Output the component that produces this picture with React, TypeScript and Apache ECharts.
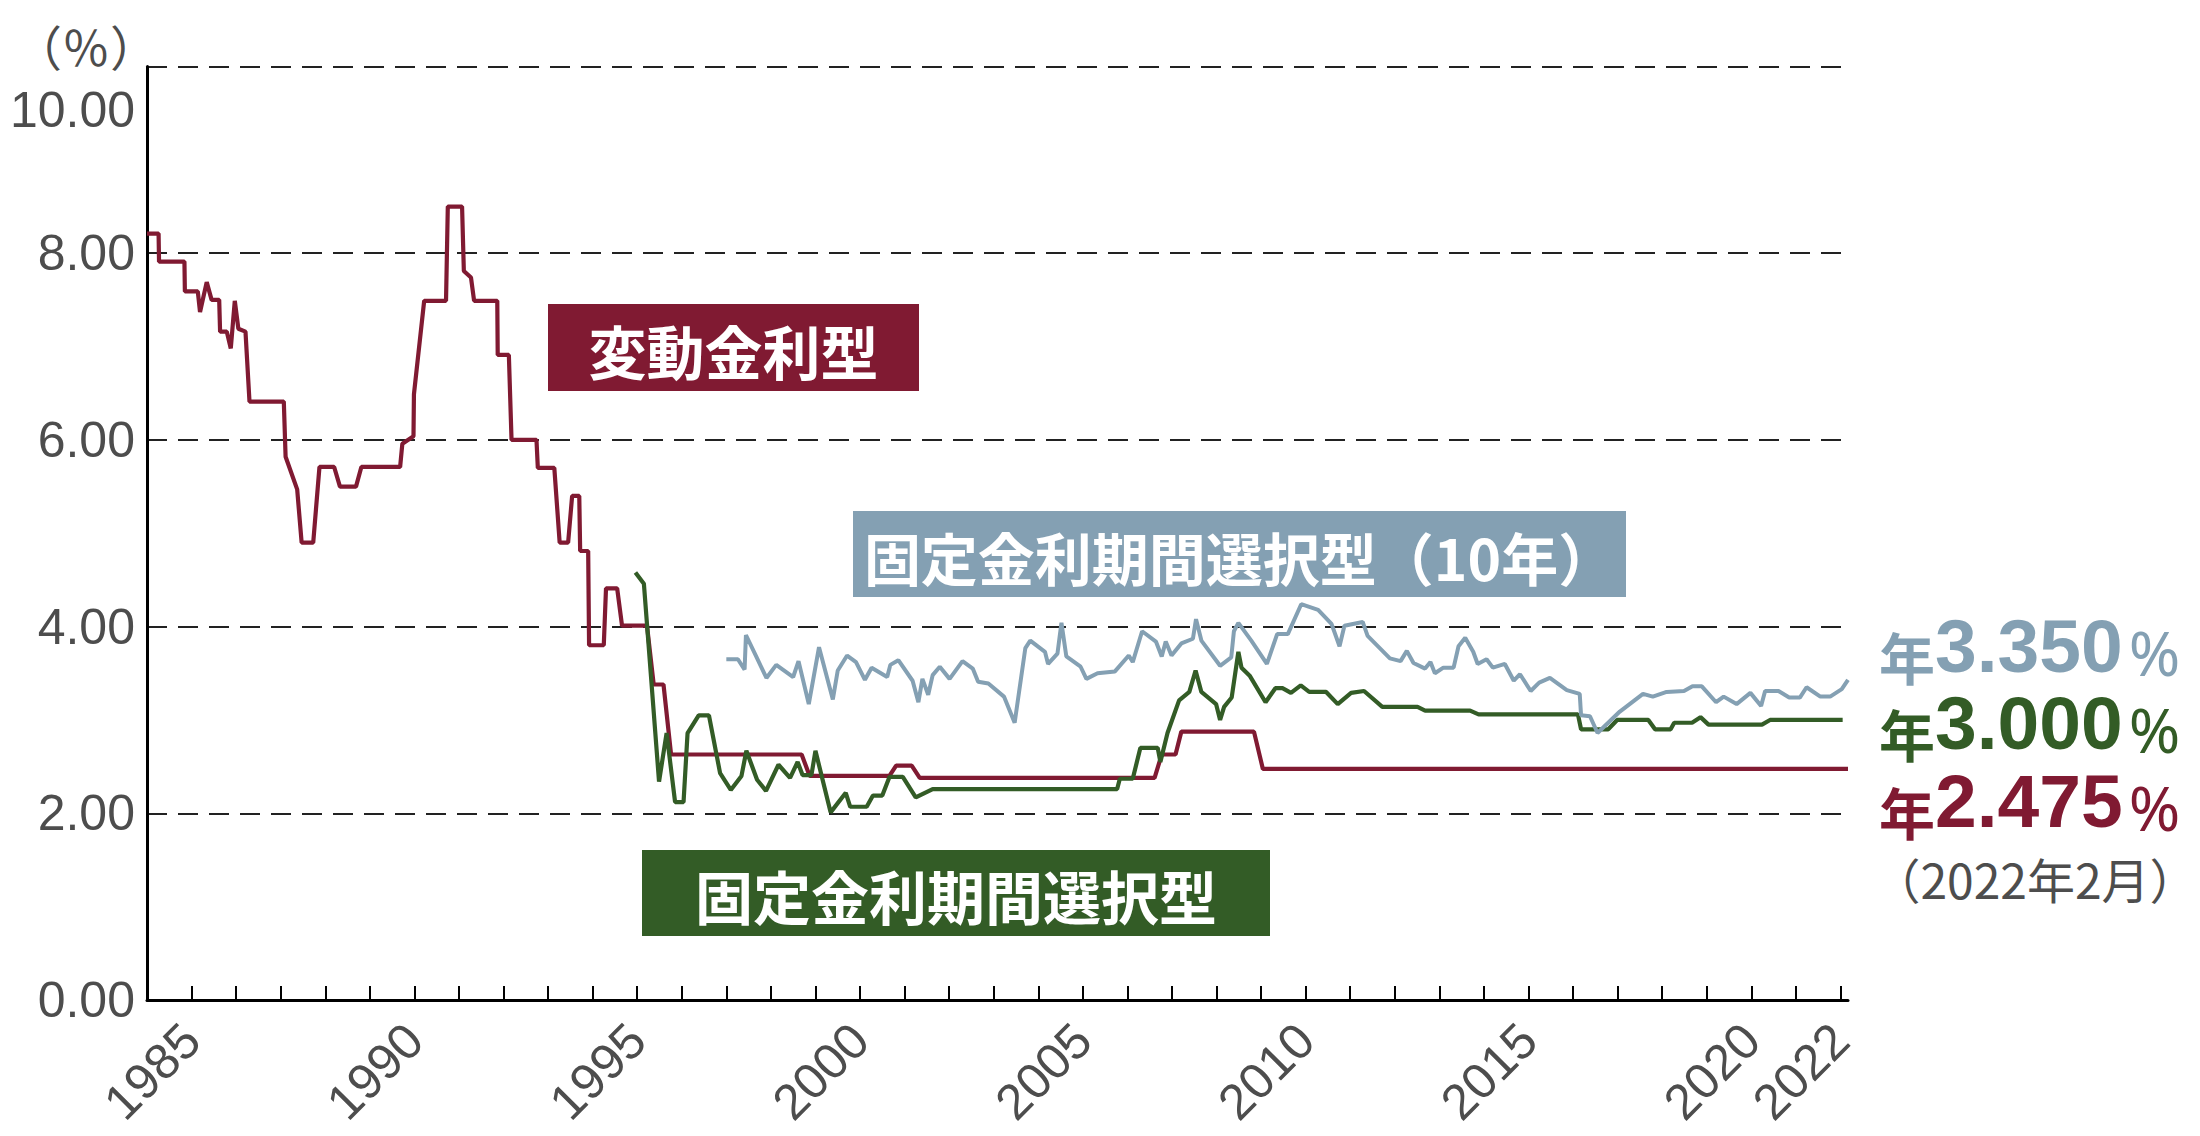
import React, { useEffect, useRef } from 'react';
import * as echarts from 'echarts';

// 変動金利型 (variable rate)
const variableYears = [1984.0, 1984.26, 1984.27, 1984.84, 1984.85, 1985.14, 1985.19, 1985.34, 1985.45, 1985.62, 1985.64, 1985.79, 1985.88, 1985.97, 1986.05, 1986.21, 1986.3, 1987.07, 1987.11, 1987.37, 1987.47, 1987.73, 1987.87, 1988.2, 1988.33, 1988.69, 1988.81, 1989.68, 1989.73, 1989.98, 1989.99, 1990.22, 1990.71, 1990.75, 1991.07, 1991.11, 1991.27, 1991.34, 1991.86, 1991.87, 1992.12, 1992.18, 1992.74, 1992.77, 1993.14, 1993.26, 1993.45, 1993.54, 1993.7, 1993.72, 1993.9, 1993.92, 1994.25, 1994.3, 1994.55, 1994.66, 1995.22, 1995.37, 1995.59, 1995.76, 1998.69, 1998.87, 2000.66, 2000.81, 2001.16, 2001.34, 2006.61, 2006.77, 2007.08, 2007.21, 2008.84, 2009.04, 2022.17];
const variableRates = [8.21, 8.21, 7.91, 7.91, 7.59, 7.59, 7.37, 7.69, 7.5, 7.5, 7.16, 7.16, 6.98, 7.49, 7.19, 7.16, 6.41, 6.41, 5.82, 5.47, 4.9, 4.9, 5.71, 5.71, 5.5, 5.5, 5.71, 5.71, 5.96, 6.04, 6.49, 7.49, 7.49, 8.5, 8.5, 7.81, 7.74, 7.49, 7.49, 6.91, 6.91, 6.0, 6.0, 5.7, 5.7, 4.9, 4.9, 5.4, 5.4, 4.81, 4.81, 3.8, 3.8, 4.41, 4.41, 4.01, 4.01, 3.38, 3.38, 2.63, 2.63, 2.4, 2.4, 2.51, 2.51, 2.38, 2.38, 2.63, 2.63, 2.875, 2.875, 2.475, 2.475];

// 固定金利期間選択型 (3年)
const fixedYears = [1994.96, 1995.15, 1995.49, 1995.66, 1995.85, 1996.04, 1996.13, 1996.38, 1996.61, 1996.86, 1997.1, 1997.34, 1997.45, 1997.69, 1997.89, 1998.17, 1998.43, 1998.6, 1998.71, 1998.91, 1999.0, 1999.34, 1999.68, 1999.78, 2000.15, 2000.29, 2000.5, 2000.66, 2000.96, 2001.25, 2001.63, 2005.77, 2005.83, 2006.12, 2006.29, 2006.68, 2006.74, 2006.9, 2007.16, 2007.39, 2007.53, 2007.66, 2007.99, 2008.08, 2008.17, 2008.34, 2008.49, 2008.56, 2008.75, 2009.1, 2009.32, 2009.48, 2009.67, 2009.89, 2010.08, 2010.46, 2010.72, 2011.02, 2011.31, 2011.72, 2012.51, 2012.68, 2013.69, 2013.88, 2016.11, 2016.18, 2016.79, 2016.99, 2017.69, 2017.84, 2018.19, 2018.27, 2018.67, 2018.86, 2019.04, 2020.24, 2020.42, 2022.05];
const fixedRates = [4.58, 4.46, 2.34, 2.86, 2.12, 2.12, 2.86, 3.05, 3.05, 2.43, 2.25, 2.4, 2.67, 2.36, 2.24, 2.52, 2.38, 2.55, 2.41, 2.41, 2.67, 2.01, 2.22, 2.07, 2.07, 2.19, 2.19, 2.39, 2.39, 2.17, 2.26, 2.26, 2.37, 2.37, 2.7, 2.7, 2.55, 2.86, 3.21, 3.3, 3.53, 3.3, 3.17, 3.0, 3.14, 3.24, 3.73, 3.56, 3.47, 3.19, 3.34, 3.34, 3.29, 3.37, 3.3, 3.3, 3.17, 3.29, 3.31, 3.14, 3.14, 3.1, 3.1, 3.06, 3.06, 2.9, 2.9, 3.0, 3.0, 2.9, 2.9, 2.97, 2.97, 3.03, 2.95, 2.95, 3.0, 3.0];

// 固定金利期間選択型（10年）
const fixed10Years = [1997.0, 1997.26, 1997.41, 1997.44, 1997.67, 1997.9, 1998.12, 1998.5, 1998.62, 1998.85, 1999.08, 1999.39, 1999.5, 1999.71, 1999.91, 2000.11, 2000.26, 2000.61, 2000.68, 2000.86, 2001.18, 2001.31, 2001.4, 2001.53, 2001.63, 2001.79, 2002.01, 2002.3, 2002.53, 2002.65, 2002.88, 2003.23, 2003.47, 2003.71, 2003.82, 2004.15, 2004.22, 2004.43, 2004.52, 2004.63, 2004.95, 2005.08, 2005.33, 2005.72, 2006.03, 2006.12, 2006.33, 2006.64, 2006.77, 2006.86, 2006.99, 2007.21, 2007.47, 2007.54, 2007.66, 2008.08, 2008.33, 2008.39, 2008.49, 2008.78, 2009.13, 2009.36, 2009.6, 2009.9, 2010.28, 2010.58, 2010.76, 2010.87, 2011.28, 2011.39, 2011.89, 2012.13, 2012.27, 2012.42, 2012.68, 2012.8, 2012.9, 2013.09, 2013.32, 2013.43, 2013.58, 2013.76, 2013.86, 2014.06, 2014.2, 2014.47, 2014.67, 2014.81, 2015.05, 2015.24, 2015.48, 2015.86, 2016.15, 2016.18, 2016.38, 2016.55, 2017.05, 2017.57, 2017.79, 2018.1, 2018.49, 2018.68, 2018.89, 2019.21, 2019.38, 2019.67, 2019.98, 2020.22, 2020.31, 2020.61, 2020.85, 2021.09, 2021.24, 2021.55, 2021.77, 2022.03, 2022.17];
const fixed10Rates = [3.65, 3.65, 3.54, 3.91, 3.68, 3.45, 3.59, 3.46, 3.63, 3.17, 3.78, 3.22, 3.53, 3.69, 3.62, 3.43, 3.56, 3.46, 3.59, 3.64, 3.42, 3.19, 3.44, 3.27, 3.48, 3.57, 3.44, 3.63, 3.55, 3.41, 3.39, 3.25, 2.97, 3.77, 3.85, 3.73, 3.6, 3.71, 4.04, 3.68, 3.57, 3.44, 3.5, 3.52, 3.69, 3.62, 3.95, 3.84, 3.68, 3.84, 3.69, 3.82, 3.87, 4.08, 3.85, 3.58, 3.67, 3.95, 4.04, 3.85, 3.6, 3.92, 3.92, 4.24, 4.18, 4.03, 3.79, 4.01, 4.05, 3.9, 3.66, 3.63, 3.74, 3.61, 3.55, 3.62, 3.5, 3.56, 3.56, 3.79, 3.88, 3.73, 3.6, 3.65, 3.56, 3.6, 3.42, 3.49, 3.31, 3.4, 3.45, 3.32, 3.28, 3.05, 3.04, 2.86, 3.09, 3.28, 3.25, 3.3, 3.31, 3.36, 3.36, 3.19, 3.25, 3.17, 3.29, 3.15, 3.31, 3.31, 3.24, 3.24, 3.35, 3.25, 3.25, 3.33, 3.43];

const xLabelYears = [1985, 1990, 1995, 2000, 2005, 2010, 2015, 2020, 2022];
const yTicks = [0, 2, 4, 6, 8, 10];
const seriesNames = ['変動金利型', '固定金利期間選択型', '固定金利期間選択型（10年）'];
const latestRates = ['3.350', '3.000', '2.475'];
const latestDate = '（2022年2月）';
const unitLabel = '（％）';

const MAROON = '#801a32';
const GREEN = '#335c26';
const BLUE = '#84a0b3';
const GRAY = '#4d4d4d';
const CJK = '"Noto Sans CJK JP", sans-serif';
const LATIN = '"Liberation Sans", Arial, sans-serif';

const zip = (xs: number[], ys: number[]) => xs.map((x, i) => [x, ys[i]]);

export default function App() {
  const ref = useRef<HTMLDivElement>(null);
  useEffect(() => {
    if (!ref.current) return;
    const chart = echarts.init(ref.current, null, { renderer: 'svg' });
    const tickYears: number[] = [];
    for (let y = 1985; y <= 2022; y++) tickYears.push(y);
    const topTick = yTicks[yTicks.length - 1];

    const valueLabel = (rate: string, color: string, y: number) => ({
      type: 'text',
      x: 1879,
      y,
      style: {
        text: `{a|年}{b|${rate}}{c|%}`,
        align: 'left',
        verticalAlign: 'middle',
        rich: {
          a: { fontFamily: CJK, fontWeight: 'bold', fontSize: 56, fill: color, color, verticalAlign: 'bottom', lineHeight: 76 },
          b: { fontFamily: LATIN, fontWeight: 'bold', fontSize: 75, fill: color, color, verticalAlign: 'bottom', lineHeight: 76 },
          c: { fontFamily: '"Noto Sans", sans-serif', fontWeight: 'normal', fontSize: 62, fill: color, color, verticalAlign: 'bottom', lineHeight: 72, padding: [0, 0, 0, 6] },
        },
      },
    });

    const box = (x: number, y: number, w: number, h: number, color: string, text: string, fs: number) => ({
      type: 'group',
      children: [
        { type: 'rect', shape: { x, y, width: w, height: h }, style: { fill: color } },
        {
          type: 'text',
          x: x + w / 2,
          y: y + h / 2 + 2,
          style: { text, fill: '#ffffff', font: `bold ${fs}px ${CJK}`, align: 'center', verticalAlign: 'middle' },
        },
      ],
    });

    chart.setOption({
      animation: false,
      grid: { left: 147, right: 352, top: 66.5, bottom: 136, containLabel: false },
      xAxis: {
        type: 'value',
        min: 1984,
        max: 2022.17,
        splitLine: { show: false },
        axisLine: { show: true, lineStyle: { color: '#000', width: 3 } },
        axisTick: { show: true, inside: true, length: 14, customValues: tickYears, lineStyle: { color: '#000', width: 2 } },
        axisLabel: {
          customValues: xLabelYears,
          rotate: 45,
          margin: 32,
          fontSize: 50,
          fontFamily: LATIN,
          color: GRAY,
          formatter: (v: number) => String(v),
        },
      },
      yAxis: {
        type: 'value',
        min: 0,
        max: 10,
        interval: 2,
        axisLine: { show: true, lineStyle: { color: '#000', width: 3 } },
        axisTick: { show: false },
        splitLine: { show: true, lineStyle: { color: '#222', width: 2, type: [20, 11] } },
        axisLabel: {
          margin: 12,
          fontSize: 50,
          fontFamily: LATIN,
          color: GRAY,
          formatter: (v: number) => (v === topTick ? '' : v.toFixed(2)),
        },
      },
      series: [
        { name: seriesNames[0], type: 'line', showSymbol: false, data: zip(variableYears, variableRates), lineStyle: { color: MAROON, width: 4.2 }, itemStyle: { color: MAROON }, z: 2 },
        { name: seriesNames[1], type: 'line', showSymbol: false, data: zip(fixedYears, fixedRates), lineStyle: { color: GREEN, width: 4.2 }, itemStyle: { color: GREEN }, z: 3 },
        { name: seriesNames[2], type: 'line', showSymbol: false, data: zip(fixed10Years, fixed10Rates), lineStyle: { color: BLUE, width: 4 }, itemStyle: { color: BLUE }, z: 4 },
      ],
      graphic: [
        { type: 'text', x: 86, y: 45, style: { text: unitLabel, fill: GRAY, font: `48px ${CJK}`, align: 'center', verticalAlign: 'middle' } },
        { type: 'text', x: 135, y: 110, style: { text: topTick.toFixed(2), fill: GRAY, font: `50px ${LATIN}`, align: 'right', verticalAlign: 'middle' } },
        box(548, 304, 371, 87, MAROON, seriesNames[0], 58),
        box(853, 511, 773, 86, BLUE, seriesNames[2], 57),
        box(642, 850, 628, 86, GREEN, seriesNames[1], 58),
        valueLabel(latestRates[0], BLUE, 645),
        valueLabel(latestRates[1], GREEN, 722),
        valueLabel(latestRates[2], MAROON, 800),
        { type: 'text', x: 2035, y: 878, style: { text: latestDate, fill: GRAY, font: `48px ${CJK}`, align: 'center', verticalAlign: 'middle' } },
      ],
    });
    return () => chart.dispose();
  }, []);
  return <div ref={ref} style={{ position: 'absolute', left: 0, top: 0, width: 2200, height: 1136 }} />;
}
